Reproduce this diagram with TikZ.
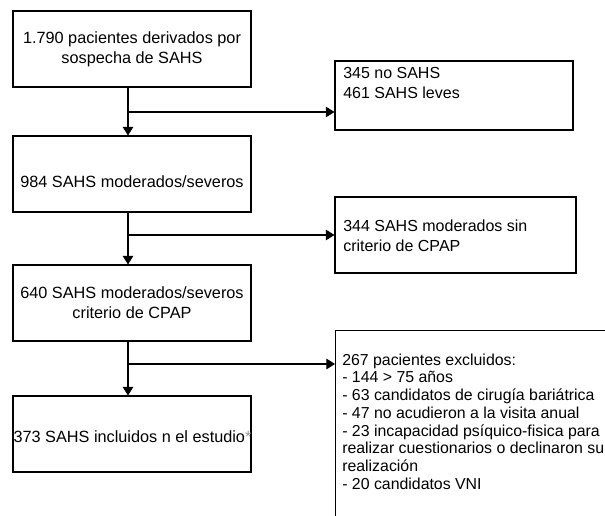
\documentclass[tikz,border=0pt]{standalone}
\usepackage{fontspec}
\setmainfont{Liberation Sans}
\usetikzlibrary{arrows.meta}
\begin{document}
\begin{tikzpicture}[x=0.75pt,y=-0.75pt,
  box/.style={draw, line width=0.8pt, minimum width=178.5pt, minimum height=57pt, inner sep=0pt},
  txt/.style={font=\fontsize{12.2}{15}\selectfont, align=center, inner sep=0pt},
  ltxt/.style={font=\fontsize{12}{15}\selectfont, align=left, inner sep=0pt, anchor=west},
  arr/.style={line width=0.8pt, -{Triangle[length=6.5pt,width=8pt]}}]
\useasboundingbox (0,0) rectangle (605,515);
% boxes
\node[box] (b1) at (132,49) {};
\node[box] (b2) at (132,174) {};
\node[box] (b3) at (132,303) {};
\node[box] (b4) at (132,434) {};
\node[box, minimum height=51.75pt] (bA) at (454,95.5) {};
\node[box, minimum width=180.75pt] (bB) at (455.5,235) {};
\node[box, anchor=north west, minimum width=225pt, minimum height=150pt] (bC) at (335,330) {};
% texts
\node[txt] (t1) at (132,49) {1.790 pacientes derivados por\\sospecha de SAHS};
\node[txt] (t2) at (132,182) {984 SAHS moderados/severos};
\node[txt] (t3) at (132,303) {640 SAHS moderados/severos\\criterio de CPAP};
\node[txt] (t4) at (132.5,437) {373 SAHS incluidos n el estudio{\color{gray!80}*}};
\node[ltxt] (tA) at (343,83) {345 no SAHS\\461 SAHS leves};
\node[ltxt] (tB) at (343,235.5) {344 SAHS moderados sin\\criterio de CPAP};
\node[ltxt, font=\fontsize{11.9}{13.3}\selectfont] (tC) at (342,421.5) {267 pacientes excluidos:\\- 144 > 75 años\\- 63 candidatos de cirugía bariátrica\\- 47 no acudieron a la visita anual\\- 23 incapacidad psíquico-fisica para\\realizar cuestionarios o declinaron su\\realización\\- 20 candidatos VNI};
% connectors
\coordinate (v) at (128,0);
\coordinate (j1) at (128,112);
\coordinate (j2) at (128,235);
\coordinate (j3) at (128,364);
\draw[arr] (b1.south -| v) -- (b2.north -| v);
\draw[arr] (b2.south -| v) -- (b3.north -| v);
\draw[arr] (b3.south -| v) -- (b4.north -| v);
\draw[arr] (j1) -- (j1 -| bA.west);
\draw[arr] (j2) -- (j2 -| bB.west);
\draw[arr] (j3) -- (j3 -| bC.west);
\end{tikzpicture}
\end{document}
